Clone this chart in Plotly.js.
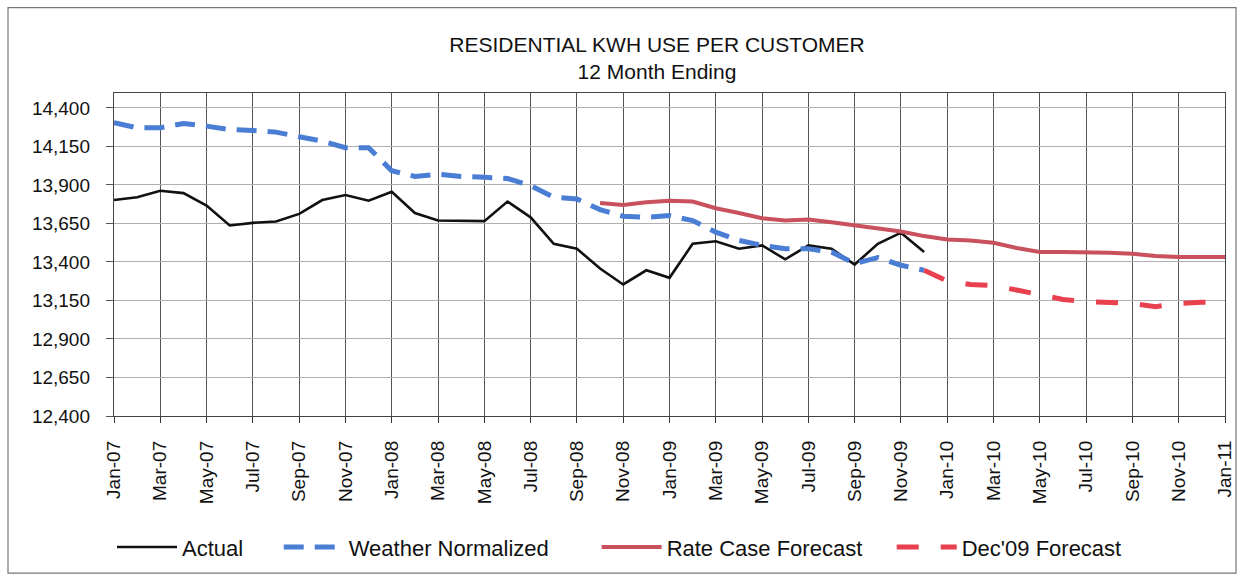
<!DOCTYPE html>
<html>
<head>
<meta charset="utf-8">
<script src="https://cdn.plot.ly/plotly-3.0.1.min.js"></script>
<style>
  html, body { margin: 0; padding: 0; background: #ffffff; }
  #chart { width: 1239px; height: 580px; }
</style>
</head>
<body>
<div id="chart"></div>
<script>
// Month categories (x axis)
const months = [
  'Jan-07','Feb-07','Mar-07','Apr-07','May-07','Jun-07','Jul-07','Aug-07','Sep-07','Oct-07','Nov-07','Dec-07',
  'Jan-08','Feb-08','Mar-08','Apr-08','May-08','Jun-08','Jul-08','Aug-08','Sep-08','Oct-08','Nov-08','Dec-08',
  'Jan-09','Feb-09','Mar-09','Apr-09','May-09','Jun-09','Jul-09','Aug-09','Sep-09','Oct-09','Nov-09','Dec-09',
  'Jan-10','Feb-10','Mar-10','Apr-10','May-10','Jun-10','Jul-10','Aug-10','Sep-10','Oct-10','Nov-10','Dec-10',
  'Jan-11'
];
const tickLabels = ['Jan-07','Mar-07','May-07','Jul-07','Sep-07','Nov-07','Jan-08','Mar-08','May-08','Jul-08',
  'Sep-08','Nov-08','Jan-09','Mar-09','May-09','Jul-09','Sep-09','Nov-09','Jan-10','Mar-10','May-10','Jul-10',
  'Sep-10','Nov-10','Jan-11'];
const yTicks = [12400, 12650, 12900, 13150, 13400, 13650, 13900, 14150, 14400];

// Actual: Jan-07 .. Dec-09
const actualMonths = months.slice(0, 36);
const actual = [
  13802, 13820, 13862, 13847, 13766, 13637, 13654, 13663, 13712, 13802, 13835, 13798,
  13856, 13718, 13669, 13669, 13665, 13792, 13690, 13518, 13486, 13357, 13254, 13346,
  13297, 13518, 13534, 13486, 13508, 13417, 13508, 13486, 13383, 13518, 13590, 13465
];
// Weather Normalized: Jan-07 .. Dec-09
const weatherMonths = months.slice(0, 36);
const weather = [
  14305, 14271, 14271, 14299, 14282, 14260, 14254, 14243, 14213, 14185, 14142, 14142,
  13992, 13955, 13970, 13955, 13950, 13942, 13895, 13820, 13809, 13740, 13697, 13690,
  13701, 13669, 13594, 13540, 13508, 13486, 13486, 13465, 13390, 13428, 13379, 13346
];
// Rate Case Forecast: Oct-08 .. Jan-11
const rateMonths = months.slice(21, 49);
const rateCase = [
  13783, 13770, 13787, 13798, 13792, 13749, 13718, 13684, 13669, 13675, 13658, 13637,
  13620, 13598, 13568, 13546, 13540, 13525, 13491, 13465, 13465, 13465, 13460, 13454,
  13439, 13432, 13432, 13432
];
// Dec'09 Forecast: Dec-09 .. Jan-11
const decMonths = months.slice(35, 49);
const dec09 = [
  13346, 13276, 13254, 13246, 13218, 13190, 13157, 13142, 13138, 13131, 13110, 13131,
  13138, 13138
];

// Legend names (non-breaking padding reproduces the wider spacing between entries)
const seriesNames = ['Actual', 'Weather Normalized', 'Rate Case Forecast', "Dec'09 Forecast"];
const pad = n => '\u00a0'.repeat(n);

const FONT = 'Liberation Sans, Arial, sans-serif';

const traces = [
  { x: actualMonths, y: actual, name: seriesNames[0] + pad(5), type: 'scatter', mode: 'lines',
    line: { color: '#111111', width: 2.6 } },
  { x: weatherMonths, y: weather, name: seriesNames[1] + pad(7), type: 'scatter', mode: 'lines',
    line: { color: '#4a7dd4', width: 5, dash: '20px,11px' } },
  { x: rateMonths, y: rateCase, name: seriesNames[2] + pad(4), type: 'scatter', mode: 'lines',
    line: { color: '#c9505d', width: 4 } },
  { x: decMonths, y: dec09, name: seriesNames[3], type: 'scatter', mode: 'lines',
    line: { color: '#e8404f', width: 5, dash: '22px,22px' } }
];

const layout = {
  width: 1239, height: 580,
  margin: { l: 114, r: 14, t: 93, b: 162 },
  paper_bgcolor: '#ffffff', plot_bgcolor: '#ffffff',
  font: { family: FONT, color: '#111111', size: 19 },
  title: {
    text: 'RESIDENTIAL KWH USE PER CUSTOMER<br>12 Month Ending',
    font: { family: FONT, size: 21, color: '#111111' },
    x: 657 / 1239, xanchor: 'center', xref: 'container',
    y: 1 - 52 / 580, yanchor: 'middle', yref: 'container'
  },
  xaxis: {
    type: 'category', categoryorder: 'array', categoryarray: months,
    range: [0, 48], tickmode: 'array', tickvals: tickLabels, ticktext: tickLabels,
    tickangle: -90, ticks: 'outside', ticklen: 6, tickcolor: '#333333',
    ticklabelstandoff: 10,
    showgrid: true, gridcolor: '#555555', gridwidth: 1,
    showline: true, linecolor: '#444444', linewidth: 1.2, mirror: true,
    tickfont: { family: FONT, size: 19, color: '#111111' },
    zeroline: false, fixedrange: true
  },
  yaxis: {
    range: [12400, 14497], tickmode: 'array', tickvals: yTicks,
    tickformat: ',d', ticks: 'outside', ticklen: 7, tickcolor: '#555555',
    ticklabelstandoff: 12,
    showgrid: true, gridcolor: '#b0b0b0', gridwidth: 1,
    showline: true, linecolor: '#444444', linewidth: 1.2, mirror: true,
    tickfont: { family: FONT, size: 19, color: '#111111' },
    zeroline: false, fixedrange: true
  },
  showlegend: true,
  legend: {
    orientation: 'h', x: (112 - 114) / 1111, xanchor: 'left',
    y: (418 - 550) / 325, yanchor: 'middle',
    font: { family: FONT, size: 22, color: '#111111' },
    itemwidth: 60, bgcolor: 'rgba(0,0,0,0)', traceorder: 'normal'
  },
  shapes: [
    { type: 'rect', xref: 'paper', yref: 'paper',
      x0: (8 - 114) / 1111, x1: (1236 - 114) / 1111,
      y0: (418 - 576) / 325, y1: (418 - 7) / 325,
      line: { color: '#777777', width: 1.2 }, fillcolor: 'rgba(0,0,0,0)', layer: 'below' }
  ]
};

Plotly.newPlot('chart', traces, layout, { displayModeBar: false, staticPlot: true });
</script>
</body>
</html>
